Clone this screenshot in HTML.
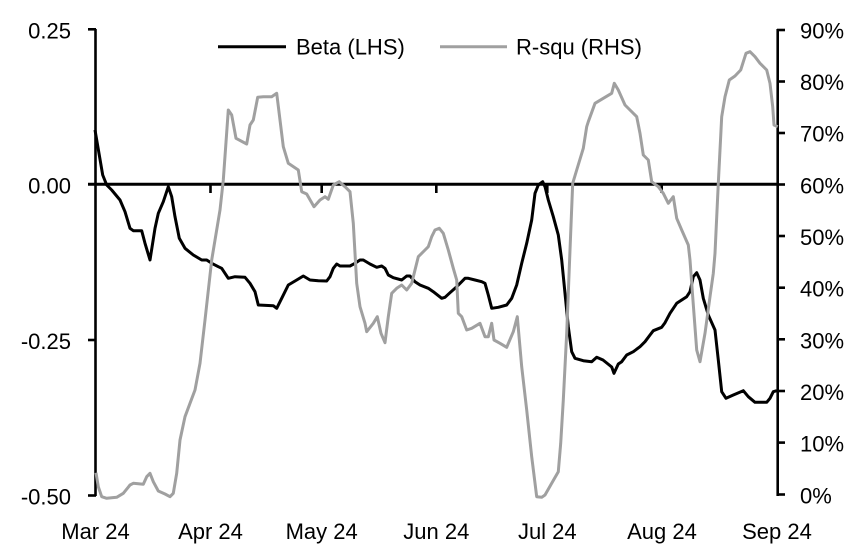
<!DOCTYPE html>
<html><head><meta charset="utf-8"><style>
html,body{margin:0;padding:0;background:#fff;}
svg{display:block;}
text{font-family:"Liberation Sans",Arial,sans-serif;font-size:22px;fill:#000;}
</style></head><body>
<svg width="852" height="551" viewBox="0 0 852 551" xmlns="http://www.w3.org/2000/svg">
<rect width="852" height="551" fill="#fff"/>
<!-- axes -->
<g stroke="#000" stroke-width="2.6" fill="none">
<line x1="95.5" y1="29" x2="95.5" y2="496"/>
<line x1="88" y1="29.3" x2="96" y2="29.3"/>
<line x1="88" y1="340" x2="96" y2="340"/>
<line x1="88" y1="495.5" x2="96" y2="495.5"/>
<line x1="777.7" y1="29" x2="777.7" y2="496"/>
<line x1="777" y1="30" x2="785" y2="30"/>
<line x1="777" y1="81.5" x2="785" y2="81.5"/>
<line x1="777" y1="133" x2="785" y2="133"/>
<line x1="777" y1="184.5" x2="785" y2="184.5"/>
<line x1="777" y1="236" x2="785" y2="236"/>
<line x1="777" y1="287.7" x2="785" y2="287.7"/>
<line x1="777" y1="339.3" x2="785" y2="339.3"/>
<line x1="777" y1="391" x2="785" y2="391"/>
<line x1="777" y1="442.6" x2="785" y2="442.6"/>
<line x1="777" y1="494.5" x2="785" y2="494.5"/>
</g>
<line x1="88" y1="184.3" x2="778" y2="184.3" stroke="#000" stroke-width="3"/>
<g stroke="#000" stroke-width="2.6">
<line x1="210.5" y1="184" x2="210.5" y2="193"/>
<line x1="321.7" y1="184" x2="321.7" y2="193"/>
<line x1="436.3" y1="184" x2="436.3" y2="193"/>
<line x1="547.3" y1="184" x2="547.3" y2="193"/>
<line x1="661.7" y1="184" x2="661.7" y2="193"/>
</g>
<!-- left labels -->
<g text-anchor="end">
<text x="71" y="38.5">0.25</text>
<text x="71" y="193.5">0.00</text>
<text x="71" y="349">-0.25</text>
<text x="71" y="504.5">-0.50</text>
</g>
<!-- right labels -->
<g text-anchor="start">
<text x="800" y="38.5">90%</text>
<text x="800" y="90">80%</text>
<text x="800" y="141.7">70%</text>
<text x="800" y="193.3">60%</text>
<text x="800" y="245">50%</text>
<text x="800" y="296.7">40%</text>
<text x="800" y="348.3">30%</text>
<text x="800" y="400">20%</text>
<text x="800" y="451.7">10%</text>
<text x="800" y="503.5">0%</text>
</g>
<!-- x labels -->
<g text-anchor="middle">
<text x="95.5" y="539">Mar 24</text>
<text x="210.5" y="539">Apr 24</text>
<text x="321.7" y="539">May 24</text>
<text x="436.3" y="539">Jun 24</text>
<text x="547.3" y="539">Jul 24</text>
<text x="662" y="539">Aug 24</text>
<text x="777" y="539">Sep 24</text>
</g>
<!-- legend -->
<line x1="218" y1="46.7" x2="286" y2="46.7" stroke="#000" stroke-width="3"/>
<text x="296" y="54.5">Beta (LHS)</text>
<line x1="440" y1="46.7" x2="507" y2="46.7" stroke="#a0a0a0" stroke-width="3"/>
<text x="516" y="54.5">R-squ (RHS)</text>
<!-- Beta -->
<polyline fill="none" stroke="#000" stroke-width="3" stroke-linejoin="round" points="95,130 102.7,175 106.7,185 111.7,190 120,200 125,211.7 130,228.3 133.3,230.7 141.7,230.7 145,243.3 150,260 155,228.3 158.3,213.3 163.3,201.7 168.3,186.7 171.7,196.7 175,216.7 179.3,238.3 185,248.3 193.3,255 201.7,260 206.7,260 211.7,263.3 218.3,266.7 221.7,268.3 228.3,278.3 235,276.7 245,277.3 250,283.3 255,291.7 258.3,305 273.3,305.7 276.7,308.3 281.7,298.3 288.3,285 296.7,280 303.3,276 310,280 318.3,280.7 326.7,281 330,276.7 333.3,268.3 336.7,264 340,266 350,266 355,263.3 360,260 363.3,260 370,264 376.7,267.3 381.7,266 385,268.3 388.3,275 393.3,277.7 401.7,280 406.7,276 410,276 415,281.7 420,285 428.3,288.3 433.3,291.7 441.7,298.3 445,297.3 450,292.7 456.7,286.7 461.7,281.7 465,278.3 468.3,278.3 475,280 481.7,281.7 485,283.3 488.3,295 491.7,308.3 498.3,307.3 506.7,305 511.7,298.3 516.7,285 521.7,263.3 526.7,243.3 531.7,220 535,193.3 538.3,185 542.7,181.7 545,186.7 548.3,200 553.3,216.7 558.3,235 561.7,260 565,293.3 568.3,326.7 571.7,351.7 575,358.3 583.3,360.7 591.7,361.7 596.7,357.3 603,360 608,364 611.7,367 614,373.3 618.3,364 621.7,361.7 626.7,355 633.3,351.7 640,346.7 645,341.7 650,335 653.3,330.7 661.7,327.3 665,322.7 670,313.3 676.7,303.3 686.7,296.7 690,291.7 693.3,276.7 696.7,272.7 700,280 703.3,298.3 708.3,315 715,330 718.3,360 721.7,391.7 726,398.3 733.3,395 743.3,390.7 748.3,396.7 755,402.3 766.7,402.3 770,398.3 773.3,391.7 776.7,390.7"/>
<!-- R-squ -->
<polyline fill="none" stroke="#a0a0a0" stroke-width="3" stroke-linejoin="round" points="96,472.7 98.3,486.7 101.7,496.7 106.7,498.3 116.7,497.3 123.3,493.3 130,485 133.3,483.3 143.3,484.3 146.7,476.7 150,473.3 153.3,481.7 158.3,491 165,494 170,496.7 173.3,493.3 176.7,473.3 180,440 185,416.7 190,403.3 195,390 200,363.3 205,320 211.7,260 220,210 223.3,180 228.3,110 231.7,115 236,138.3 246.7,144 250,125 253.3,120 257.7,97.3 263.3,96.7 271.7,96.7 276.7,93.3 283.3,146.7 288.3,163.3 298.3,170 301.7,191.7 306.7,194 314,206.7 320,200 325,196.7 328.3,199.3 333.3,185 339.3,181.7 345,186.7 350,191.7 353.3,223.3 356.7,283.3 360,306.7 365,323.3 366.7,331.7 373.3,323.3 377.3,316.7 381,333.3 385,342.7 388.3,316.7 391.7,293.3 396.7,288.3 401.7,285 406.7,290 411.7,283.3 415,270 418.3,256.7 425,250 428.3,246.7 431.7,236.7 435,230 439.3,228.3 443.3,233.3 448.3,250 453.3,268.3 456.7,280 458.3,313.3 461.7,316.7 466.7,330 471.7,328.3 480,323.3 485,336.7 488.3,336.7 491.7,323.3 494,340 500,343.3 506.7,347.3 513.3,331.7 517.3,316.7 521.7,366.7 526.7,410 531.7,456.7 536.7,496.7 541.7,497.3 545,495 551.7,483.3 558.3,471.7 560.7,443.3 563.3,400 566.7,333.3 570,250 572.7,183.3 576.7,170 583.3,148.3 586.7,126.7 588.3,121.7 595,103.3 603.3,98.3 611.7,93.3 614.3,83.3 618.3,90 625,105 630,110 636.7,116.7 640,133.3 643.3,155 648.3,160 651.7,181.7 658.3,186.7 663.3,193.3 668.3,203.3 673.3,196.7 676.7,218.3 681.7,230 688.3,245 690,260 692.7,296.7 696.7,350 700,361.7 705,333.3 710,296.7 713.3,273.3 715,253.3 718.3,183.3 721.7,116.7 725,96.7 729.3,80 735,76 740.7,70 746,53.3 750,51.7 755,56.7 760,63.3 766.7,70 770,83.3 772.7,106.7 774,125 777.7,126.7"/>
</svg>
</body></html>
